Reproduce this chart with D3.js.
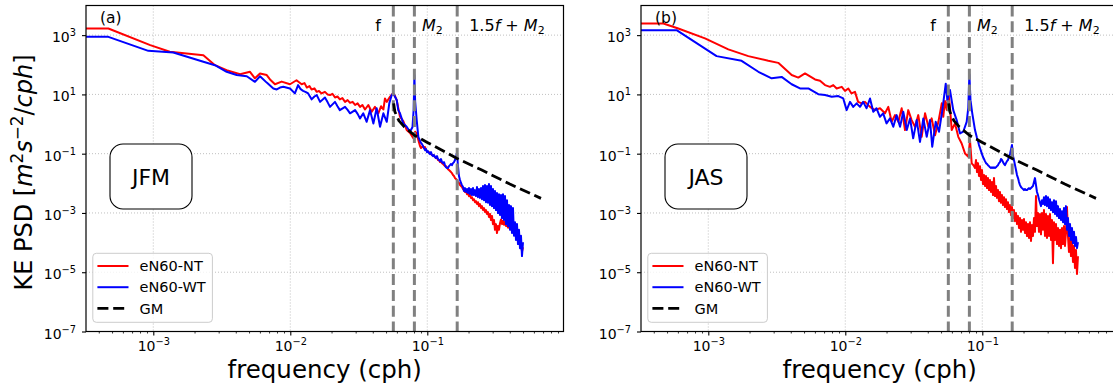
<!DOCTYPE html>
<html><head><meta charset="utf-8">
<script src="https://cdn.jsdelivr.net/npm/d3@7"></script>
<style>body{margin:0;background:#fff}svg{display:block;font-family:"DejaVu Sans",sans-serif}</style>
</head><body>
<svg id="c" width="1113" height="390"></svg>
<script>
// ---------------- data ----------------
const panelTags = ["(a)", "(b)"];
const seasons = ["JFM", "JAS"];
const legendLabels = ["eN60-NT", "eN60-WT", "GM"];
const xTickExps = [-3, -2, -1];
const yTickExps = [-7, -5, -3, -1, 1, 3];
const vlineFreqs = [0.0565, 0.0805, 0.1653];

// shared high-frequency grid (cph)
const freqGrid = [
0.08846,0.08996,0.09149,0.09304,0.09461,0.09621,0.09784,0.0995,0.1012,0.1029,
0.1046,0.1064,0.1082,0.1100,0.1119,0.1138,0.1157,0.1177,0.1197,0.1217,
0.1238,0.1259,0.1280,0.1302,0.1324,0.1346,0.1369,0.1392,0.1416,0.1440,
0.1464,0.1489,0.1514,0.1540,0.1566,0.1593,0.1620,0.1647,0.1675,0.1703,
0.1733,0.1762,0.1792,0.1823,0.1853,0.1885,0.1916,0.1949,0.1982,0.2015,
0.2049,0.2084,0.2120,0.2156,0.2192,0.2229,0.2267,0.2305,0.2344,0.2384,
0.2424,0.2466,0.2507,0.2550,0.2593,0.2637,0.2682,0.2727,0.2773,0.2820,
0.2868,0.2917,0.2966,0.3016,0.3067,0.3119,0.3172,0.3226,0.3280,0.3336,
0.3393,0.3451,0.3509,0.3568,0.3629,0.3691,0.3753,0.3817,0.3881,0.3947,
0.4014,0.4082,0.4151,0.4221,0.4293,0.4366,0.4440,0.4515,0.4592,0.4669,
0.4749,0.4829,0.4911,0.4994];

// (a) JFM, eN60-NT
const aNT_low = [[3.23e-4,1680],[4.70e-4,1680],[9.5e-4,460],[1.32e-3,274],[2.32e-3,211],[2.82e-3,97],[3.43e-3,66],[4.30e-3,48],[5.08e-3,58],[5.52e-3,35],[6.01e-3,51],[6.73e-3,45],[7.11e-3,32],[7.73e-3,22],[8.65e-3,27],[9.95e-3,22],[0.0111,30],[0.0121,22],[0.0127,24],[0.0132,17],[0.0138,19],[0.0143,14.7],[0.0150,16],[0.0156,12.2],[0.0162,13],[0.0169,10.8],[0.0179,12.2],[0.0187,10],[0.0195,9.5],[0.0203,10.5],[0.0212,7.9],[0.0221,8.5],[0.0230,6.8],[0.0240,7.5],[0.0251,5.6],[0.0262,6.4],[0.0273,5.2],[0.0285,5.6],[0.0297,4.4],[0.0310,5.0],[0.0323,3.8],[0.0336,4.4],[0.0351,3.1],[0.0371,4.4],[0.0393,2.6],[0.0415,3.8],[0.0439,2.3],[0.0460,4.0],[0.0478,3.1],[0.0491,7.3],[0.0506,5.6],[0.0534,8.3],[0.0560,10.8],[0.0580,9],[0.0598,6.4],[0.0632,1.76],[0.0668,1.25],[0.0707,0.63],[0.0748,0.5],[0.0791,0.33],[0.0815,0.55],[0.0837,0.48],[0.086,0.29]];
const aNT_tail = [
0.181,0.155,0.168,0.181,0.155,0.168,0.132,0.122,0.113,0.113,
0.105,0.097,0.090,0.090,0.083,0.077,0.071,0.071,0.061,0.061,
0.052,0.052,0.048,0.045,0.041,0.038,0.038,0.035,0.030,0.028,
0.026,0.024,0.022,0.019,0.0176,0.015,0.0139,0.0129,0.011,0.0102,
0.0087,0.0081,0.0075,0.0064,0.0059,0.0051,0.0055,0.0043,0.0047,0.0037,
0.0040,0.0032,0.0034,0.0027,0.0029,0.0023,0.0025,0.0020,0.0023,0.0017,
0.0020,0.00146,0.0017,0.00125,0.00146,0.00107,0.00125,0.00092,0.00107,0.00073,
0.00092,0.00058,0.00079,0.00042,0.00058,0.00027,0.00042,0.00021,0.00036,0.00027,
0.00045,0.0006,0.00042,0.00055,0.0004,0.0005,0.00036,0.00045,0.00032,0.0004,
0.00028,0.00034,0.00024,0.0003,0.0002,0.00024,0.00015,0.00019,0.00011,0.00014,
0.00008,0.0001,0.00005,0.00007];

// (a) JFM, eN60-WT
const aWT_low = [[3.23e-4,877],[4.70e-4,877],[9.2e-4,295],[1.40e-3,261],[2.32e-3,126],[2.82e-3,97],[3.43e-3,58],[4.06e-3,45],[4.81e-3,41],[5.52e-3,26.6],[6.01e-3,41],[6.73e-3,25],[7.52e-3,15.9],[7.96e-3,14.7],[8.41e-3,17],[8.89e-3,18],[9.95e-3,15.9],[0.0108,10.8],[0.0114,20.6],[0.0119,15],[0.0124,13.2],[0.0130,12],[0.0135,10.8],[0.0143,6.8],[0.0150,8.5],[0.0156,9.5],[0.0165,5.6],[0.0179,7.9],[0.0187,5.5],[0.0195,3.8],[0.0212,5.6],[0.0221,4.0],[0.0230,2.95],[0.0251,3.8],[0.0262,3.0],[0.0273,2.3],[0.0297,2.95],[0.0310,2.2],[0.0323,1.55],[0.0341,2.3],[0.0361,1.19],[0.0382,2.95],[0.0404,1.05],[0.0427,3.4],[0.0452,0.81],[0.0478,2.3],[0.0506,1.19],[0.0528,5.0],[0.0550,9.5],[0.0565,10.8],[0.0580,8.5],[0.0598,6.5],[0.0614,2.95],[0.0632,2.3],[0.0668,1.05],[0.0707,0.81],[0.0748,0.55],[0.0780,0.8],[0.0795,3.0],[0.0805,45],[0.0815,6],[0.0837,1.36],[0.086,0.37]];
const aWT_tail = [
0.27,0.23,0.21,0.18,0.155,0.132,0.143,0.113,0.122,0.105,
0.097,0.113,0.090,0.083,0.090,0.077,0.071,0.083,0.066,0.061,
0.056,0.066,0.052,0.048,0.052,0.041,0.035,0.033,0.033,0.038,
0.041,0.045,0.041,0.048,0.052,0.061,0.077,0.105,0.038,0.0176,
0.0129,0.0102,0.0087,0.0075,0.0055,0.0069,0.0051,0.0064,0.0047,0.0069,
0.0043,0.0064,0.0040,0.0069,0.0040,0.0059,0.0037,0.0075,0.0034,0.0064,
0.0032,0.0069,0.0029,0.0081,0.0027,0.0087,0.0023,0.0081,0.0022,0.0094,
0.00185,0.0081,0.0017,0.0064,0.00146,0.0055,0.00125,0.0047,0.00099,0.0043,
0.00085,0.0040,0.00067,0.0043,0.00058,0.0037,0.00042,0.0027,0.00036,0.00185,
0.00027,0.0017,0.00021,0.00146,0.00017,0.00049,0.000122,0.00042,0.000089,0.00027,
0.000065,0.00017,0.000035,0.000104];

// (b) JAS, eN60-NT
const bNT_low = [[3.23e-4,2480],[4.70e-4,2480],[6.04e-4,1680],[9.46e-4,774],[1.40e-3,330],[1.96e-3,196],[2.74e-3,136],[3.24e-3,116],[4.06e-3,45],[4.54e-3,37],[5.08e-3,51],[6.01e-3,32],[6.54e-3,29],[7.11e-3,20.6],[7.73e-3,18],[8.17e-3,20.6],[8.65e-3,15.9],[9.42e-3,18],[9.95e-3,13.2],[0.01052,15.9],[0.0111,10.8],[0.01177,12.2],[0.0124,5.6],[0.0132,5.0],[0.01392,5.6],[0.01515,3.8],[0.01647,2.95],[0.01792,3.4],[0.01949,2.3],[0.0206,3.8],[0.0218,1.19],[0.02306,2.0],[0.0244,1.19],[0.0258,3.4],[0.02728,0.63],[0.0288,2.95],[0.0305,1.36],[0.03227,0.81],[0.0341,2.0],[0.0361,0.37],[0.0382,2.3],[0.0404,0.81],[0.0427,1.55],[0.0452,0.42],[0.0478,1.19],[0.0506,5.0],[0.0519,1.76],[0.0534,6.0],[0.0550,3.0],[0.0565,12],[0.0580,4.0],[0.0598,0.63],[0.0632,1.05],[0.0668,0.37],[0.0707,0.22],[0.0748,0.102],[0.0791,0.0785],[0.0813,0.29],[0.0837,0.047],[0.0865,0.04]];
const bNT_tail = [
0.033,0.061,0.024,0.048,0.0176,0.038,0.0129,0.028,0.0094,0.019,
0.0081,0.0176,0.0069,0.015,0.0059,0.0129,0.0051,0.011,0.0040,0.015,
0.0037,0.0081,0.0032,0.0059,0.0025,0.0051,0.0022,0.0040,0.00185,0.0034,
0.00158,0.0029,0.00135,0.0023,0.00107,0.00185,0.00085,0.00158,0.00067,0.00125,
0.00053,0.00099,0.00042,0.00079,0.00031,0.00067,0.00023,0.00058,0.00027,0.00062,
0.00021,0.00049,0.000166,0.00042,0.000143,0.00049,0.000113,0.00039,0.000166,0.00067,
0.00023,0.0037,0.00036,0.00099,0.00023,0.00092,0.00019,0.00099,0.00027,0.00125,
0.000166,0.00092,0.000143,0.00079,0.000166,0.00092,0.000122,0.00058,0.000020,0.00049,
0.000122,0.00042,0.000089,0.00031,0.000077,0.00027,0.000065,0.00031,0.000089,0.00036,
0.000077,0.00023,0.00158,0.000166,0.000048,0.000143,0.000035,0.000122,0.000022,0.000077,
0.000014,0.000056,0.0000087,0.000035];

// (b) JAS, eN60-WT
const bWT_low = [[3.23e-4,1475],[5.87e-4,1475],[1.15e-3,196],[1.75e-3,136],[2.32e-3,58],[2.90e-3,35],[3.43e-3,39],[4.06e-3,22],[4.67e-3,15.9],[5.37e-3,15.9],[6.35e-3,10.2],[7.11e-3,9.5],[7.96e-3,8.3],[8.89e-3,8.8],[9.66e-3,7.3],[0.01023,2.95],[0.01082,5.6],[0.01143,3.8],[0.0121,5.0],[0.0128,3.8],[0.0135,5.6],[0.0143,3.4],[0.01515,7.3],[0.0160,2.6],[0.0169,3.4],[0.0179,1.76],[0.0189,2.3],[0.0200,1.05],[0.0212,1.55],[0.0224,0.81],[0.0237,2.0],[0.0251,0.81],[0.0265,2.6],[0.0281,0.63],[0.0297,1.55],[0.0313,0.33],[0.0332,1.36],[0.0351,0.25],[0.0371,1.55],[0.0393,0.37],[0.0415,1.36],[0.0431,0.171],[0.0457,1.19],[0.0483,0.55],[0.0511,2.95],[0.0541,23],[0.0556,6.4],[0.0581,14],[0.0614,2.95],[0.0650,1.36],[0.0688,0.48],[0.0726,0.55],[0.0769,1.19],[0.0790,3.5],[0.0805,48],[0.0820,6.4],[0.0845,2.3]];
const bWT_tail = [
0.625,0.458,0.336,0.266,0.195,0.155,0.122,0.097,0.077,0.066,
0.056,0.048,0.045,0.041,0.038,0.035,0.033,0.035,0.033,0.035,
0.033,0.035,0.038,0.041,0.048,0.052,0.066,0.061,0.052,0.045,
0.041,0.048,0.056,0.061,0.077,0.097,0.14,0.195,0.083,0.061,
0.041,0.028,0.019,0.015,0.011,0.0087,0.0075,0.0069,0.0064,0.0059,
0.0064,0.0059,0.0059,0.0064,0.0069,0.0064,0.0069,0.0075,0.0081,0.011,
0.015,0.0087,0.0051,0.0040,0.0029,0.0022,0.0017,0.0027,0.0020,0.0034,
0.00185,0.0037,0.0017,0.0034,0.00146,0.0029,0.00125,0.0023,0.00107,0.0027,
0.00092,0.0025,0.00079,0.0017,0.00067,0.00135,0.00058,0.00115,0.00049,0.00146,
0.00042,0.0017,0.00027,0.00067,0.000166,0.00042,0.000122,0.00031,0.000096,0.00023,
0.000077,0.000155,0.000065,0.000104];

// Garrett-Munk reference spectrum
const gmFreq = [0.0568,0.0580,0.0620,0.0680,0.0805,0.100,0.130,0.165,0.250,0.400,0.676];
const gmPSD  = [5.0,2.6,1.3,0.80,0.42,0.24,0.125,0.069,0.028,0.0095,0.0031];

// ---------------- drawing ----------------
const svg = d3.select("#c");
const plotTop = 5.5, plotBottom = 331.5, plotW = 477.5;
const panelLefts = [86, 641];
const series = [
  {nt: aNT_low.concat(freqGrid.map((f,i)=>[f,aNT_tail[i]])), wt: aWT_low.concat(freqGrid.map((f,i)=>[f,aWT_tail[i]]))},
  {nt: bNT_low.concat(freqGrid.map((f,i)=>[f,bNT_tail[i]])), wt: bWT_low.concat(freqGrid.map((f,i)=>[f,bWT_tail[i]]))}
];
const gm = gmFreq.map((f,i)=>[f,gmPSD[i]]);
const colors = {nt:"#ff0000", wt:"#0000ff", gm:"#000000", vline:"#808080"};

function supLabel(sel, exp) {
  sel.text(null);
  sel.append("tspan").text("10");
  sel.append("tspan").attr("dy", -6).attr("font-size", "9.8px").text(exp < 0 ? "\u2212" + (-exp) : exp);
}

panelLefts.forEach((L, p) => {
  const x = d3.scaleLog().domain([3.227e-4, 0.9867]).range([L, L + plotW]);
  const y = d3.scaleLog().domain([1e-7, 1e4]).range([plotBottom, plotTop]);
  const g = svg.append("g");
  const clipId = "clip" + p;
  svg.append("clipPath").attr("id", clipId).append("rect")
    .attr("x", L).attr("y", plotTop).attr("width", plotW).attr("height", plotBottom - plotTop);

  // grid
  const grid = g.append("g").attr("stroke", "#b0b0b0").attr("stroke-width", 0.8).attr("stroke-dasharray", "1,2");
  xTickExps.forEach(e => grid.append("line").attr("x1", x(Math.pow(10, e))).attr("x2", x(Math.pow(10, e))).attr("y1", plotTop).attr("y2", plotBottom));
  yTickExps.forEach(e => grid.append("line").attr("x1", L).attr("x2", L + plotW).attr("y1", y(Math.pow(10, e))).attr("y2", y(Math.pow(10, e))));

  // data lines
  const line = d3.line().x(d => x(d[0])).y(d => y(d[1]));
  const data = g.append("g").attr("clip-path", `url(#${clipId})`).attr("fill", "none").attr("stroke-linejoin", "round");
  data.append("path").datum(series[p].nt).attr("d", line).attr("stroke", colors.nt).attr("stroke-width", 2);
  data.append("path").datum(series[p].wt).attr("d", line).attr("stroke", colors.wt).attr("stroke-width", 2);

  // vertical reference lines
  vlineFreqs.forEach(f => data.append("line").attr("x1", x(f)).attr("x2", x(f)).attr("y1", plotTop).attr("y2", plotBottom)
    .attr("stroke", colors.vline).attr("stroke-width", 3).attr("stroke-dasharray", "11,4.8"));
  // GM
  data.append("path").datum(gm).attr("d", line).attr("stroke", colors.gm).attr("stroke-width", 2.8).attr("stroke-dasharray", "11,4.8");

  // axes
  const minors = [];
  for (let e = -4; e <= 0; e++) for (let k = 2; k <= 9; k++) { const v = k * Math.pow(10, e); if (v > 3.227e-4 && v < 0.9867) minors.push(v); }
  const xMinor = g.append("g").attr("transform", `translate(0,${plotBottom})`)
    .call(d3.axisBottom(x).tickValues(minors).tickSize(2).tickFormat(""));
  xMinor.select(".domain").remove();
  xMinor.selectAll(".tick line").attr("stroke-width", 0.8);
  const xAx = g.append("g").attr("transform", `translate(0,${plotBottom})`)
    .call(d3.axisBottom(x).tickValues(xTickExps.map(e => Math.pow(10, e))).tickSize(4).tickPadding(3).tickFormat(""));
  xAx.select(".domain").remove();
  xAx.selectAll(".tick line").attr("stroke-width", 1.1);
  xAx.selectAll(".tick text").attr("font-size", "14px").attr("font-family", "DejaVu Sans").attr("fill", "#000")
    .attr("dy", null).attr("y", 19)
    .each(function (d) { supLabel(d3.select(this), Math.round(Math.log10(d))); });

  const yAx = g.append("g").attr("transform", `translate(${L},0)`)
    .call(d3.axisLeft(y).tickValues(yTickExps.map(e => Math.pow(10, e))).tickSize(4).tickPadding(6).tickFormat(""));
  yAx.select(".domain").remove();
  yAx.selectAll(".tick line").attr("stroke-width", 1.1);
  yAx.selectAll(".tick text").attr("font-size", "14px").attr("font-family", "DejaVu Sans").attr("fill", "#000")
    .attr("dy", null).attr("y", 6.5)
    .each(function (d) { supLabel(d3.select(this), Math.round(Math.log10(d))); });

  // spines
  g.append("rect").attr("x", L).attr("y", plotTop).attr("width", plotW).attr("height", plotBottom - plotTop)
    .attr("fill", "none").attr("stroke", "#000").attr("stroke-width", 1.2);

  // panel tag
  g.append("text").attr("x", L + 14).attr("y", 22.5).attr("font-size", "15.5px").text(panelTags[p]);

  // vertical line labels
  const ty = 30.5;
  g.append("text").attr("x", x(vlineFreqs[0]) - 12.5).attr("y", ty).attr("text-anchor", "end").attr("font-size", "16px").text("f");
  const m2 = g.append("text").attr("x", x(vlineFreqs[1]) + 7.5).attr("y", ty).attr("font-size", "16px");
  m2.append("tspan").attr("font-style", "italic").text("M");
  m2.append("tspan").attr("font-size", "11px").attr("dy", 3).text("2");
  const c = g.append("text").attr("x", x(vlineFreqs[2]) + 12).attr("y", ty).attr("font-size", "16px");
  c.append("tspan").text("1.5");
  c.append("tspan").attr("font-style", "italic").text("f");
  c.append("tspan").text(" + ");
  c.append("tspan").attr("font-style", "italic").text("M");
  c.append("tspan").attr("font-size", "11px").attr("dy", 3).text("2");

  // season box
  g.append("rect").attr("x", L + 24).attr("y", 144).attr("width", 82).attr("height", 65).attr("rx", 13)
    .attr("fill", "#fff").attr("stroke", "#000").attr("stroke-width", 1.1);
  g.append("text").attr("x", L + 65).attr("y", 184.5).attr("text-anchor", "middle").attr("font-size", "22px").text(seasons[p]);

  // legend
  const lg = g.append("g");
  lg.append("rect").attr("x", L + 6.8).attr("y", 253.3).attr("width", 119.6).attr("height", 69).attr("rx", 3.5)
    .attr("fill", "#fff").attr("fill-opacity", 0.8).attr("stroke", "#cccccc").attr("stroke-width", 1);
  const lstyles = [{c: colors.nt, d: null, w: 2}, {c: colors.wt, d: null, w: 2}, {c: colors.gm, d: "11,4.8", w: 2.8}];
  const rowsY = [266, 287.2, 308.3];
  legendLabels.forEach((lab, i) => {
    lg.append("line").attr("x1", L + 11.4).attr("x2", L + 42.5).attr("y1", rowsY[i]).attr("y2", rowsY[i])
      .attr("stroke", lstyles[i].c).attr("stroke-width", lstyles[i].w).attr("stroke-dasharray", lstyles[i].d);
    lg.append("text").attr("x", L + 53.6).attr("y", rowsY[i] + 5.2).attr("font-size", "14.5px").text(lab);
  });

  // x label
  g.append("text").attr("x", L + plotW / 2).attr("y", 377.5).attr("text-anchor", "middle").attr("font-size", "24.5px").text("frequency (cph)");
});

// y label
const yl = svg.append("text").attr("transform", "translate(32,172.5) rotate(-90)").attr("text-anchor", "middle").attr("font-size", "24px");
yl.append("tspan").text("KE PSD [");
yl.append("tspan").attr("font-style", "italic").text("m");
yl.append("tspan").attr("font-size", "16.8px").attr("dy", -9).text("2");
yl.append("tspan").attr("font-style", "italic").attr("dy", 9).text("s");
yl.append("tspan").attr("font-size", "16.8px").attr("dy", -9).text("\u22122");
yl.append("tspan").attr("dy", 9).text("/");
yl.append("tspan").attr("font-style", "italic").text("cph");
yl.append("tspan").text("]");
</script>
</body></html>
